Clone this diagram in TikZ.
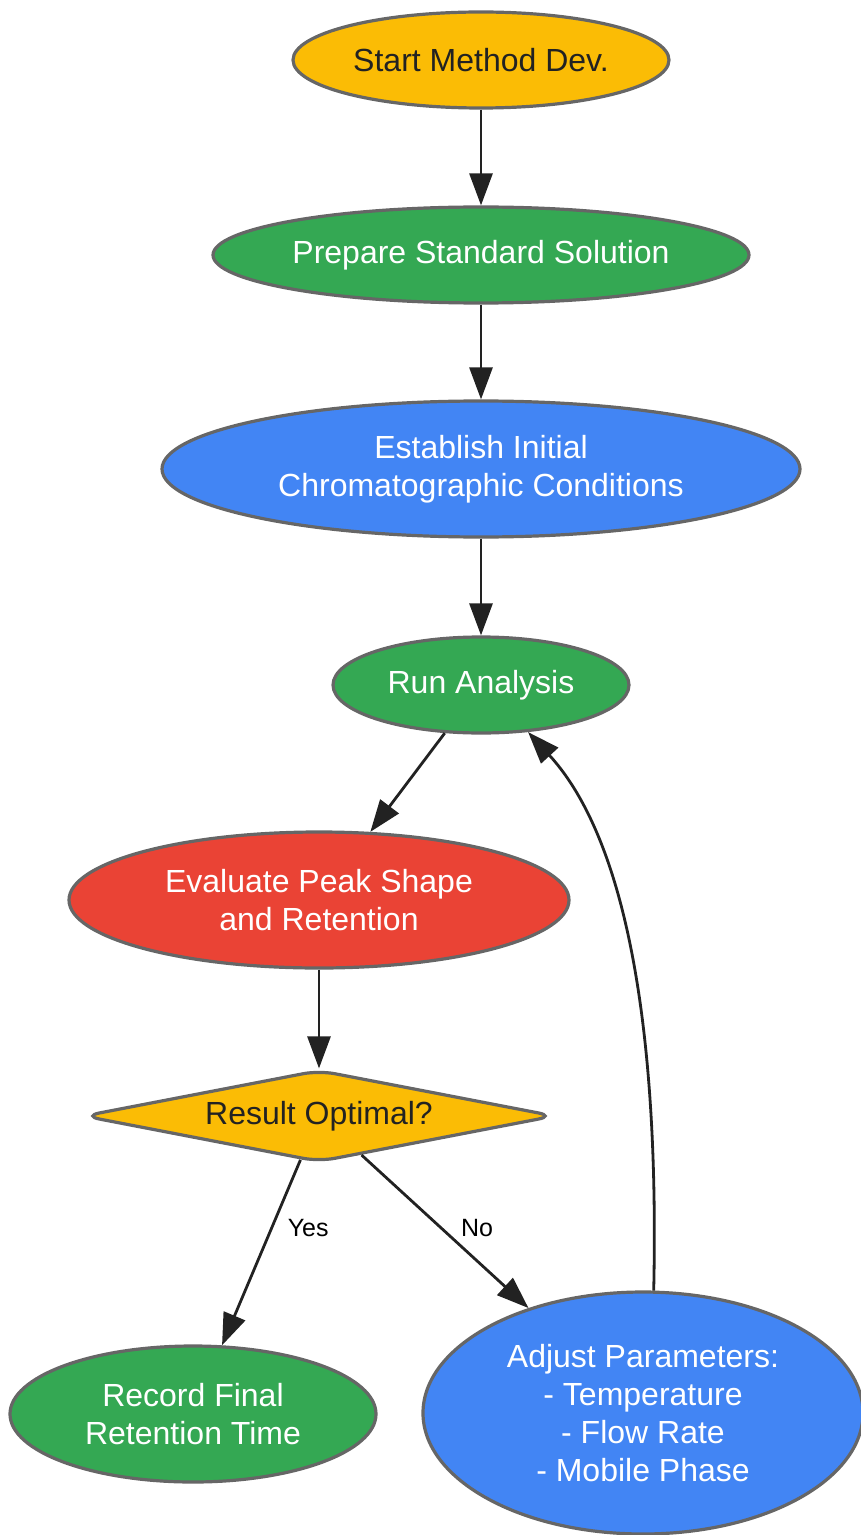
\documentclass[tikz,border=0pt]{standalone}
\usepackage{fontspec}
\setmainfont{Liberation Sans}
\usetikzlibrary{shapes.geometric,arrows.meta}
\definecolor{gyellow}{HTML}{FBBC05}
\definecolor{ggreen}{HTML}{34A853}
\definecolor{gblue}{HTML}{4285F4}
\definecolor{gred}{HTML}{EA4335}
\definecolor{nodeline}{HTML}{666666}
\definecolor{arrowline}{HTML}{222222}

\begin{document}
\begin{tikzpicture}[x=0.5pt,y=-0.5pt,>={Triangle[length=16pt,width=11.5pt]},
    main node/.style={ellipse,draw=nodeline,line width=1.6pt,inner sep=0pt,align=center,text=white,font=\fontsize{16}{19}\selectfont},
    decision node/.style={diamond,draw=nodeline,line width=1.6pt,inner sep=0pt,shape aspect=5,rounded corners=8pt,fill=gyellow,text=arrowline,font=\fontsize{16}{19}\selectfont},
    flow/.style={->,draw=arrowline,line width=1.4pt},
    choice/.style={inner sep=0pt,text=black,font=\fontsize{12.5}{14}\selectfont}]

            \useasboundingbox (0,0) rectangle (861,1535);

            \node[main node, fill=gyellow, text=arrowline, minimum width=188pt, minimum height=48pt] (start) at (481,60) {Start Method Dev.};
            \node[main node, fill=ggreen, minimum width=268pt, minimum height=48pt] (prep) at (481,255) {Prepare Standard Solution};
            \node[main node, fill=gblue, minimum width=319pt, minimum height=68pt] (init) at (481,469) {Establish Initial\\Chromatographic Conditions};
            \node[main node, fill=ggreen, minimum width=148pt, minimum height=48pt] (run) at (481,685) {Run Analysis};
            \node[main node, fill=gred, minimum width=250pt, minimum height=68pt] (eval) at (319,900) {Evaluate Peak Shape\\and Retention};
            \node[decision node, minimum width=236pt, minimum height=46pt] (opt) at (319,1116) {Result Optimal?};
            \node[main node, fill=ggreen, minimum width=183pt, minimum height=68pt] (rec) at (193,1414) {Record Final\\Retention Time};
            \node[main node, fill=gblue, minimum width=220pt, minimum height=121pt] (adj) at (643,1413) {Adjust Parameters:\\- Temperature\\- Flow Rate\\- Mobile Phase};

            \draw[flow] (start) to (prep);
            \draw[flow] (prep) to (init);
            \draw[flow] (init) to (run);
            \draw[flow] (run) to (eval);
            \draw[flow] (eval) to (opt);
            \draw[flow] (opt) to node[choice, pos=0.37, right=7.5pt] {Yes} (rec);
            \draw[flow] (opt) to node[choice, pos=0.48, right=9pt] {No} (adj);
            \draw[flow] (adj.85) .. controls (660,1000) and (618,830) .. (run.-45);

            ;
        \end{tikzpicture}
\end{document}
